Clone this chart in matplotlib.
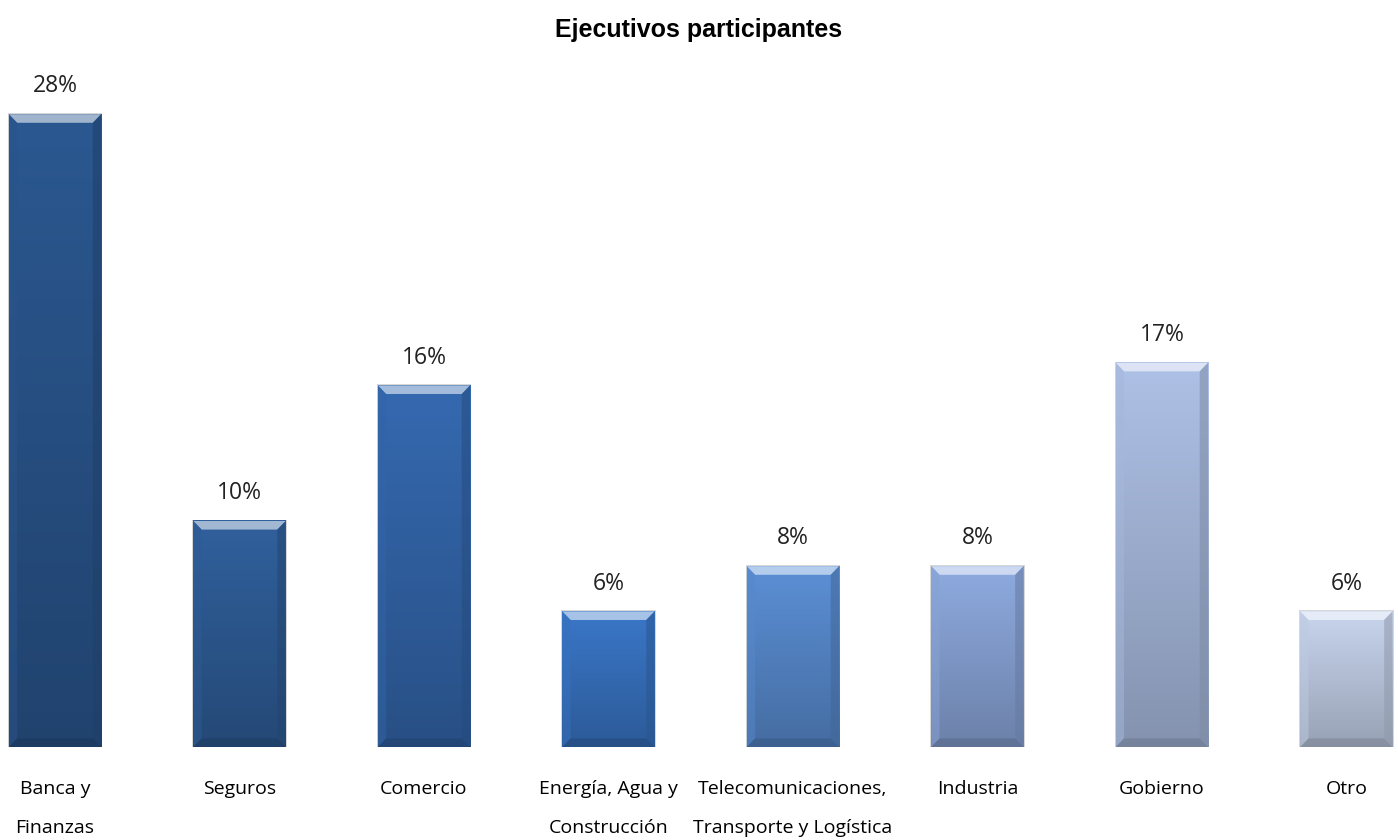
import numpy as np
import matplotlib.pyplot as plt
from matplotlib.patches import Polygon
from matplotlib.colors import to_rgb

# datos del gráfico
categorias = ["Banca y\nFinanzas", "Seguros", "Comercio", "Energía, Agua y\nConstrucción",
              "Telecomunicaciones,\nTransporte y Logística", "Industria", "Gobierno", "Otro"]
porcentajes = [28, 10, 16, 6, 8, 8, 17, 6]
etiquetas = ["28%", "10%", "16%", "6%", "8%", "8%", "17%", "6%"]

# colores de cada barra (de oscuro a claro)
colores = ["#2b5891", "#30609c", "#3569b0", "#3a77c8", "#5b8fd5", "#8eaadf", "#aec1e6", "#c8d5ee"]

fig = plt.figure(figsize=(13.98, 8.4), dpi=100)
ax = fig.add_axes([0, 93 / 840, 1, 678 / 840])

ANCHO = 0.5
BX = 0.045   # bisel en x
BY = 0.38    # bisel en y

x = np.arange(len(categorias))
for xi, val, col in zip(x, porcentajes, colores):
    c = np.array(to_rgb(col))
    x0, x1 = xi - ANCHO / 2, xi + ANCHO / 2
    # sombra suave
    ax.add_patch(plt.Rectangle((x0 - 0.006, 0), ANCHO + 0.012, val + 0.05,
                               color="#b0b0b0", alpha=0.5, lw=0, zorder=1))
    # degradado vertical
    t = np.linspace(0, 1, 100)[:, None]
    abajo = c * 0.76
    grad = abajo[None, None, :] * (1 - t[..., None]) + c[None, None, :] * t[..., None]
    grad = np.repeat(grad, 2, axis=1)
    ax.imshow(grad, extent=[x0, x1, 0, val], origin="lower", aspect="auto",
              interpolation="bilinear", zorder=2)
    # biseles
    claro = c + (1 - c) * 0.55
    oscuro = c * 0.72
    ax.add_patch(Polygon([(x0, val), (x1, val), (x1 - BX, val - BY), (x0 + BX, val - BY)],
                         closed=True, color=claro, lw=0, zorder=3))
    ax.add_patch(Polygon([(x0, 0), (x0, val), (x0 + BX, val - BY), (x0 + BX, BY)],
                         closed=True, color=c * 0.95, alpha=0.5, lw=0, zorder=3))
    ax.add_patch(Polygon([(x1, 0), (x1, val), (x1 - BX, val - BY), (x1 - BX, BY)],
                         closed=True, color=oscuro, alpha=0.55, lw=0, zorder=3))
    ax.add_patch(Polygon([(x0, 0), (x1, 0), (x1 - BX, BY), (x0 + BX, BY)],
                         closed=True, color=c * 0.6, alpha=0.5, lw=0, zorder=3))

# etiquetas de valor
for xi, val, txt in zip(x, porcentajes, etiquetas):
    ax.text(xi, val + 0.7, txt, ha="center", va="bottom", fontsize=16.5,
            family="Open Sans", color="#222222")

ax.set_xlim(-0.298, 7.28)
ax.set_ylim(0, 30)
ax.set_xticks(x)
ax.set_xticklabels(categorias, fontsize=14, family="Open Sans", linespacing=2.5, va="top")
ax.tick_params(axis="x", length=0, pad=24)
ax.set_yticks([])
for s in ax.spines.values():
    s.set_visible(False)

fig.text(0.5, 1 - 30 / 840, "Ejecutivos participantes", ha="center", va="center",
         fontsize=18, fontweight="bold", family="Liberation Sans")

fig.savefig("out.png", dpi=100)
